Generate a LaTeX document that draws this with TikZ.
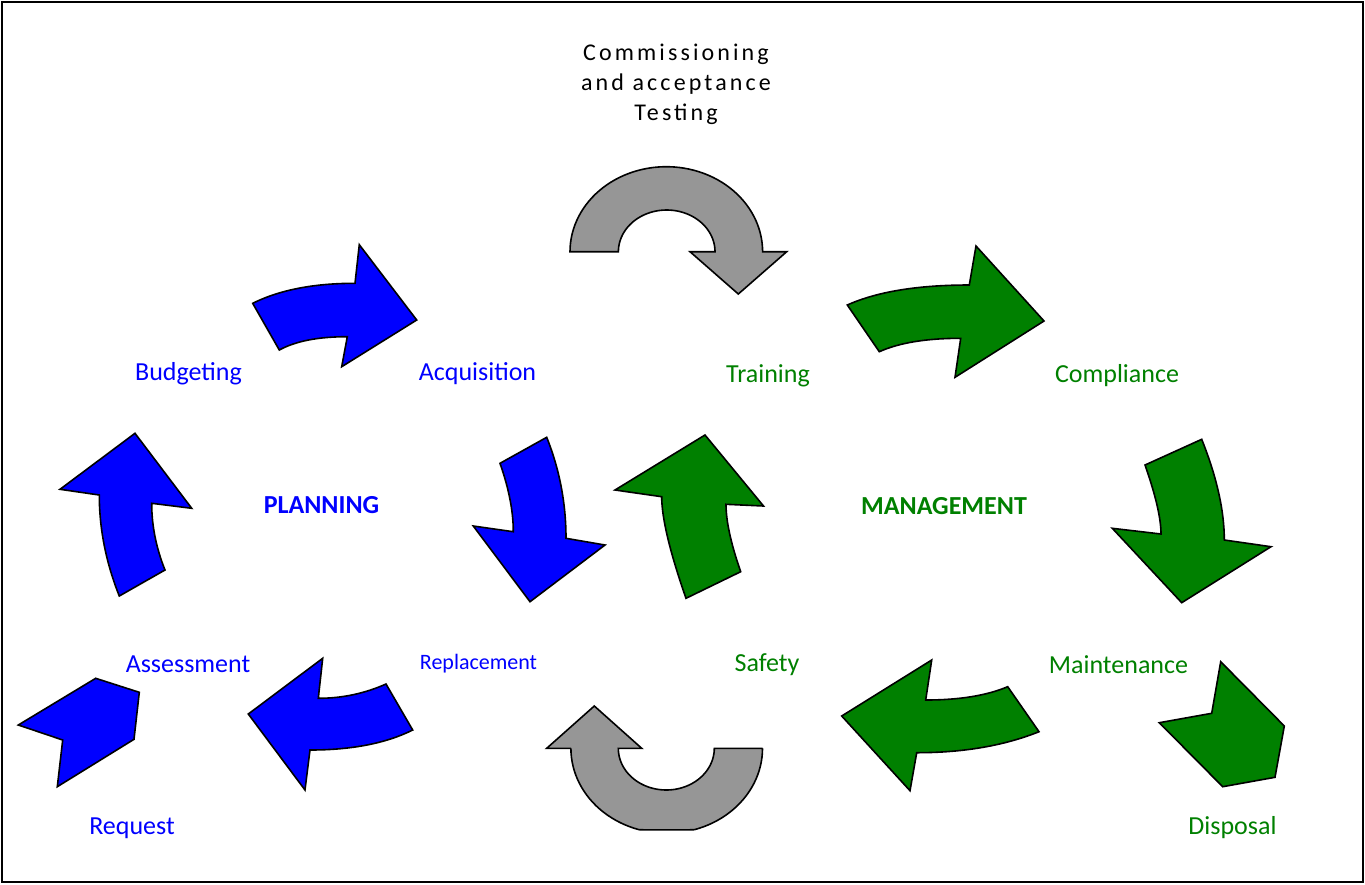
\documentclass[tikz,border=0pt]{standalone}
\usepackage{fontspec}
\setmainfont{Carlito}
\newfontfamily\spacedfont[LetterSpace=13]{Carlito}
\usetikzlibrary{calc}
\definecolor{planblue}{RGB}{0,0,255}
\definecolor{mgmtgreen}{RGB}{0,128,0}
\definecolor{loopgray}{RGB}{150,150,150}
\tikzstyle{bluearrow} = [fill=planblue, draw=black, line width=1.6pt, line join=miter]
\tikzstyle{greenarrow} = [fill=mgmtgreen, draw=black, line width=1.6pt, line join=miter]
\tikzstyle{grayarrow} = [fill=loopgray, draw=black, line width=1.6pt, line join=miter]
\tikzstyle{plan} = [text=planblue, inner sep=0pt, font=\fontsize{26}{30}\selectfont]
\tikzstyle{mgmt} = [text=mgmtgreen, inner sep=0pt, font=\fontsize{26}{30}\selectfont]

\begin{document}
\begin{tikzpicture}[x=1pt, y=-1pt]
		% pixel grid of the reference, y grows downwards
		\useasboundingbox (0,0) rectangle (1365,884);
		\draw[line width=2pt] (2,2) rectangle (1363,882);
		
		% ---- 1. Planning loop (blue) ----
		% Budgeting -> Acquisition
		\filldraw[bluearrow] (252.7,303.3) -- (279.3,350)
		.. controls (295.6,341.1) and (318.2,336.7) .. (347.3,336.7)
		-- (341.7,366.7) -- (416.7,320) -- (359.3,244.7) -- (355,283.3)
		.. controls (313.5,283.3) and (279.4,290) .. (252.7,303.3) -- cycle;
		% Acquisition -> Replacement
		\filldraw[bluearrow] (500,463.3) -- (546.7,437.3)
		.. controls (559.6,469.6) and (566,503.2) .. (566,538.3)
		-- (605,545) -- (530,601.7) -- (473.3,526) -- (513.3,531.7)
		.. controls (513.3,511.4) and (508.9,488.6) .. (500,463.3) -- cycle;
		% Replacement -> Assessment
		\filldraw[bluearrow] (386,684) -- (412.7,730)
		.. controls (386,743.3) and (351.8,750) .. (310,750)
		-- (305,790) -- (248.3,714) -- (322.7,658.3) -- (318.3,698.3)
		.. controls (342.1,698.3) and (364.7,693.5) .. (386,684) -- cycle;
		% Assessment -> Budgeting
		\filldraw[bluearrow] (119.3,596) -- (165,570)
		.. controls (156.1,547.8) and (151.7,525.6) .. (151.7,503.3)
		-- (191.7,508.3) -- (135,433.3) -- (60,489.3) -- (99.3,495)
		.. controls (99.3,529) and (106,562.7) .. (119.3,596) -- cycle;
		% Request
		\filldraw[bluearrow] (95.7,678.3) -- (139.3,692.3) -- (134,739.3)
		-- (57.3,786.7) -- (62.7,740) -- (18.3,725) -- cycle;
		
		% ---- 2. Management loop (green) ----
		% Training -> Compliance
		\filldraw[greenarrow] (847.3,305) -- (879.3,351.7)
		.. controls (899.1,342.8) and (926.2,338.3) .. (960.7,338.3)
		-- (955,377.3) -- (1044,321) -- (976,246) -- (969.3,285)
		.. controls (917.6,285) and (876.9,291.7) .. (847.3,305) -- cycle;
		% Compliance -> Maintenance
		\filldraw[greenarrow] (1145,465) -- (1201.7,439.3)
		.. controls (1216.8,477.1) and (1224.3,510.7) .. (1224.3,540)
		-- (1271,546.7) -- (1181.7,602.7) -- (1112.3,528.3) -- (1161,534)
		.. controls (1161,518.5) and (1155.7,495.5) .. (1145,465) -- cycle;
		% Maintenance -> Safety
		\filldraw[greenarrow] (1007.7,686.7) -- (1039,731.7)
		.. controls (1004.1,745.7) and (963.4,752.7) .. (916.7,752.7)
		-- (910,790.7) -- (841.7,716) -- (931.7,660) -- (925.7,700)
		.. controls (959.2,700) and (986.6,695.6) .. (1007.7,686.7) -- cycle;
		% Safety -> Training
		\filldraw[greenarrow] (686,598.3) -- (740.7,571.7)
		.. controls (730.9,543.7) and (726,521.2) .. (726,504.3)
		-- (763.5,506) -- (705,435) -- (615,490) -- (661.7,496.7)
		.. controls (661.7,518) and (669.8,551.9) .. (686,598.3) -- cycle;
		% Disposal
		\filldraw[greenarrow] (1220.7,661.7) -- (1284.3,726) -- (1275,777.3)
		-- (1222.7,786.7) -- (1159.3,722.7) -- (1211.7,713.3) -- cycle;
		
		% ---- 3. Links between the loops (gray) ----
		\filldraw[grayarrow]
		plot[domain=180:360, samples=60, variable=\t] ({666.3+96.3*cos(\t)},{251.7+85*sin(\t)})
		-- (786.7,251.7) -- (738.3,294) -- (690,251.7) -- (715,251.7)
		-- plot[domain=360:180, samples=60, variable=\t] ({666.7+48.3*cos(\t)},{251.7+41.7*sin(\t)})
		-- cycle;
		\filldraw[grayarrow] (571,748.3) -- (546.7,748.3) -- (594.3,706) -- (641.7,748.3)
		-- plot[domain=180:0, samples=60, variable=\t] ({666.3+48*cos(\t)},{748.3+41.7*sin(\t)})
		-- (762.7,748.3)
		-- plot[domain=0:180, samples=60, variable=\t] ({666.7+95.8*cos(\t)},{748.3+min(85*sin(\t),81.5)})
		-- cycle;
		
		% ---- 4. Labels ----
		\node[align=center, inner sep=0pt, font=\spacedfont\fontsize{24}{30}\selectfont] (commissioning) at (676,84) {Commissioning\\and acceptance\\Testing};
		
		\node[plan] (budgeting) at (188.5,374) {Budgeting};
		\node[plan] (acquisition) at (477.5,374) {Acquisition};
		\node[plan, font=\fontsize{26}{30}\selectfont\bfseries] (planning) at (321.5,505) {PLANNING};
		\node[plan] (assessment) at (188,664) {Assessment};
		\node[plan, font=\fontsize{22}{26}\selectfont] (replacement) at (478.5,664) {Replacement};
		\node[plan] (request) at (132,828) {Request};
		
		\node[mgmt] (training) at (768,376) {Training};
		\node[mgmt] (compliance) at (1117,376) {Compliance};
		\node[mgmt, font=\fontsize{26}{30}\selectfont\bfseries] (management) at (944,506) {MANAGEMENT};
		\node[mgmt] (safety) at (767,665) {Safety};
		\node[mgmt] (maintenance) at (1118.5,665) {Maintenance};
		\node[mgmt] (disposal) at (1232.5,828) {Disposal};
		
\end{tikzpicture}
\end{document}
